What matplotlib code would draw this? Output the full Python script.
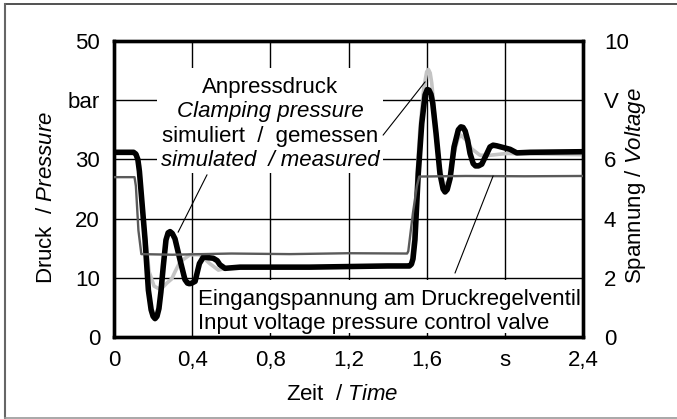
import matplotlib
matplotlib.use("Agg")
import matplotlib.pyplot as plt
from matplotlib.patches import Rectangle
from matplotlib.lines import Line2D

plt.rcParams['font.family'] = ['Liberation Sans', 'DejaVu Sans']
plt.rcParams['mathtext.fontset'] = 'custom'
plt.rcParams['mathtext.rm'] = 'Liberation Sans'
plt.rcParams['mathtext.it'] = 'Liberation Sans:italic'

FS = 16

# Anpressdruck simuliert (bar)
sim_t = [0, 0.10, 0.112, 0.122, 0.13, 0.145, 0.159, 0.176, 0.19, 0.2, 0.21, 0.22, 0.23, 0.24,
         0.252, 0.266, 0.277, 0.287, 0.298, 0.312, 0.338, 0.363, 0.376, 0.386, 0.398, 0.415,
         0.437, 0.457, 0.508, 0.528, 0.542, 0.568, 0.645, 1.0, 1.4, 1.512, 1.522, 1.53,
         1.54, 1.557, 1.575, 1.592, 1.603, 1.612, 1.622, 1.631, 1.648, 1.668, 1.684, 1.694,
         1.705, 1.72, 1.74, 1.762, 1.775, 1.786, 1.797, 1.81, 1.822, 1.838, 1.85, 1.865,
         1.882, 1.904, 1.924, 1.94, 1.958, 2.027, 2.061, 2.13, 2.4]
sim_p = [31.2, 31.2, 30.9, 30.0, 28.0, 22.0, 16.4, 7.9, 4.6, 3.5, 3.1, 3.5, 4.8, 7.6,
         11.9, 16.4, 17.6, 17.8, 17.5, 16.6, 13.0, 9.7, 9.1, 9.0, 9.1, 9.4,
         12.4, 13.5, 13.3, 12.9, 12.2, 11.6, 11.8, 11.8, 12.0, 12.0, 12.3, 13.2,
         16.4, 27.6, 36.1, 40.9, 41.8, 41.7, 41.0, 39.5, 34.4, 27.6, 25.0, 24.5,
         24.9, 26.8, 32.1, 35.0, 35.5, 35.4, 34.8, 33.2, 31.0, 29.3, 28.9, 28.9,
         29.2, 30.7, 32.1, 32.4, 32.3, 31.7, 31.1, 31.2, 31.3]

# Anpressdruck gemessen (bar)
mes_t = [0, 0.11, 0.13, 0.15, 0.18, 0.205, 0.227, 0.25, 0.27, 0.295, 0.312, 0.338, 0.389,
         0.44, 0.49, 0.534, 0.58, 1.0, 1.51, 1.522, 1.535, 1.55, 1.565, 1.585, 1.6, 1.609,
         1.618, 1.626, 1.645, 1.665, 1.69, 1.715, 1.74, 1.76, 1.775, 1.80, 1.83, 1.873,
         1.924, 2.01, 2.4]
mes_p = [31.0, 31.0, 29.0, 20.0, 11.0, 8.6, 8.2, 8.4, 9.1, 9.8, 11.0, 12.7, 13.9,
         13.9, 12.4, 11.3, 11.7, 11.8, 11.9, 12.5, 17.0, 27.0, 35.0, 42.0, 44.8, 45.2,
         44.6, 42.9, 36.0, 29.0, 25.5, 26.5, 31.0, 33.5, 34.1, 33.3, 31.8, 30.7,
         30.7, 31.0, 30.8]

# Eingangsspannung (V)
vol_t = [0, 0.105, 0.112, 0.125, 0.14, 0.3, 0.6, 0.9, 1.2, 1.5, 1.506, 1.53, 1.55,
         1.562, 1.8, 2.1, 2.4]
vol_u = [5.4, 5.4, 5.1, 3.6, 2.8, 2.78, 2.82, 2.8, 2.83, 2.82, 2.9, 4.2, 5.1,
         5.42, 5.44, 5.43, 5.44]

x_ticks = [0, 0.4, 0.8, 1.2, 1.6, 2.0, 2.4]
x_labels = ['0', '0,4', '0,8', '1,2', '1,6', 's', '2,4']
p_ticks = [0, 10, 20, 30, 40, 50]
p_labels = ['0', '10', '20', '30', 'bar', '50']
u_ticks = [0, 2, 4, 6, 8, 10]
u_labels = ['0', '2', '4', '6', 'V', '10']

W, H = 677, 419
fig = plt.figure(figsize=(W / 100, H / 100), dpi=100)
L, R, T, B = 114, 583, 41, 337
ax = fig.add_axes([L / W, 1 - B / H, (R - L) / W, (B - T) / H])
ax2 = ax.twinx()

ax.set_xlim(0, 2.4)
ax.set_ylim(0, 50)
ax2.set_ylim(0, 10)

ax.set_xticks(x_ticks)
ax.set_xticklabels(x_labels)
ax.set_yticks(p_ticks)
ax.set_yticklabels(p_labels)
ax2.set_yticks(u_ticks)
ax2.set_yticklabels(u_labels)

ax.tick_params(axis='both', length=0, labelsize=FS)
ax.tick_params(axis='y', pad=10)
ax.tick_params(axis='x', pad=9)
ax2.tick_params(axis='y', length=0, labelsize=FS, pad=15)

ax.grid(True, color='black', lw=1.0)
ax.set_axisbelow(True)
for a in (ax, ax2):
    for s in a.spines.values():
        s.set_linewidth(2.4)

# Kurven
ax.plot(mes_t, mes_p, color='#c4c4c4', lw=2.6, solid_joinstyle='round', zorder=3)
ax.plot(sim_t, sim_p, color='black', lw=4.0, solid_joinstyle='round',
        solid_capstyle='round', zorder=4)
ax2.plot(vol_t, vol_u, color='#5a5a5a', lw=1.7, zorder=3)

# weisse Textfelder
tr = ax.transAxes
box1 = Rectangle((0.0917, 0.554), 0.4819, 0.3548, transform=tr, facecolor='white',
                 edgecolor='none', zorder=2)
ax.add_patch(box1)
box2 = Rectangle((0.1706, 0.0135), 0.829, 0.1791, transform=tr, facecolor='white',
                 edgecolor='none', zorder=2)
ax.add_patch(box2)

cx = 0.3326
ax.text(cx, 0.8243, 'Anpressdruck', transform=tr, ha='center', va='baseline', fontsize=FS, zorder=5)
ax.text(cx, 0.7416, 'Clamping pressure', transform=tr, ha='center', va='baseline',
        fontsize=FS, style='italic', zorder=5)
ax.text(cx, 0.6588, 'simuliert  /  gemessen', transform=tr, ha='center', va='baseline',
        fontsize=FS, zorder=5)
ax.text(cx, 0.5777, 'simulated  / measured', transform=tr, ha='center', va='baseline',
        fontsize=FS, style='italic', zorder=5)

ax.text(0.179, 0.1081, 'Eingangspannung am Druckregelventil', transform=tr,
        ha='left', va='baseline', fontsize=FS, zorder=5)
ax.text(0.179, 0.026, 'Input voltage pressure control valve', transform=tr,
        ha='left', va='baseline', fontsize=FS, zorder=5)

# Hinweislinien
lk = dict(arrowstyle='-', color='black', lw=0.8, shrinkA=0, shrinkB=0)
ax.annotate('', xy=(0.328, 17.7), xytext=(0.476, 27.4), arrowprops=lk, zorder=5)
ax.annotate('', xy=(1.592, 43.1), xytext=(1.377, 34.1), arrowprops=lk, zorder=5)
ax2.annotate('', xy=(1.94, 5.44), xytext=(1.745, 2.16), arrowprops=lk, zorder=5)

# Achsentitel
fig.text(47 / W, 1 - 197 / H, r'Druck  / $\mathit{Pressure}$', rotation=90,
         ha='center', va='center', fontsize=FS)
fig.text(635 / W, 1 - 186 / H, r'Spannung / $\mathit{Voltage}$', rotation=90,
         ha='center', va='center', fontsize=FS)
fig.text(342 / W, 1 - 394 / H, r'Zeit  / $\mathit{Time}$',
         ha='center', va='center', fontsize=FS)

# Rahmen
fig.add_artist(Line2D([4.5 / W, 1.0], [1 - 4.5 / H, 1 - 4.5 / H], color='#333333', lw=1.2))
fig.add_artist(Line2D([4.5 / W, 4.5 / W], [1 - 4.5 / H, 1 - 418 / H], color='#666666', lw=1.5))
fig.add_artist(Line2D([4.5 / W, 1.0], [1 - 418 / H, 1 - 418 / H], color='#999999', lw=1.2))

fig.savefig('out.png', dpi=100)
